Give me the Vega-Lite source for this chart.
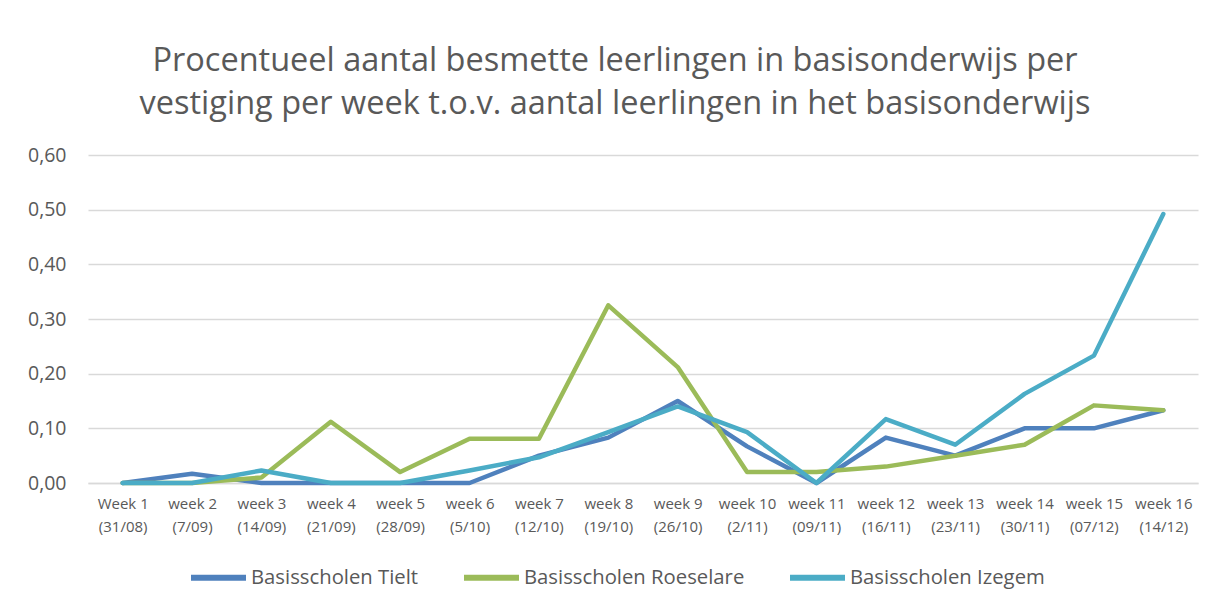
{
  "$schema": "https://vega.github.io/schema/vega-lite/v6.json",
  "width": 1110,
  "height": 328,
  "autosize": {"type": "none"},
  "padding": {"left": 88, "top": 155, "right": 25, "bottom": 124},
  "background": "#ffffff",
  "title": {
    "text": ["Procentueel aantal besmette leerlingen in basisonderwijs per", "vestiging per week t.o.v. aantal leerlingen in het basisonderwijs"],
    "font": "Open Sans",
    "fontSize": 32.5,
    "fontWeight": "normal",
    "color": "#595959",
    "anchor": "middle",
    "dx": -28,
    "offset": 25,
    "lineHeight": 43
  },
  "data": {
    "values": [
      {"week": "Week 1|(31/08)", "reeks": "Basisscholen Tielt", "waarde": 0},
      {"week": "week 2|(7/09)", "reeks": "Basisscholen Tielt", "waarde": 0.017},
      {"week": "week 3|(14/09)", "reeks": "Basisscholen Tielt", "waarde": 0},
      {"week": "week 4|(21/09)", "reeks": "Basisscholen Tielt", "waarde": 0},
      {"week": "week 5|(28/09)", "reeks": "Basisscholen Tielt", "waarde": 0},
      {"week": "week 6|(5/10)", "reeks": "Basisscholen Tielt", "waarde": 0},
      {"week": "week 7|(12/10)", "reeks": "Basisscholen Tielt", "waarde": 0.05},
      {"week": "week 8|(19/10)", "reeks": "Basisscholen Tielt", "waarde": 0.083},
      {"week": "week 9|(26/10)", "reeks": "Basisscholen Tielt", "waarde": 0.15},
      {"week": "week 10|(2/11)", "reeks": "Basisscholen Tielt", "waarde": 0.067},
      {"week": "week 11|(09/11)", "reeks": "Basisscholen Tielt", "waarde": 0},
      {"week": "week 12|(16/11)", "reeks": "Basisscholen Tielt", "waarde": 0.083},
      {"week": "week 13|(23/11)", "reeks": "Basisscholen Tielt", "waarde": 0.05},
      {"week": "week 14|(30/11)", "reeks": "Basisscholen Tielt", "waarde": 0.1},
      {"week": "week 15|(07/12)", "reeks": "Basisscholen Tielt", "waarde": 0.1},
      {"week": "week 16|(14/12)", "reeks": "Basisscholen Tielt", "waarde": 0.133},
      {"week": "Week 1|(31/08)", "reeks": "Basisscholen Roeselare", "waarde": 0},
      {"week": "week 2|(7/09)", "reeks": "Basisscholen Roeselare", "waarde": 0},
      {"week": "week 3|(14/09)", "reeks": "Basisscholen Roeselare", "waarde": 0.01},
      {"week": "week 4|(21/09)", "reeks": "Basisscholen Roeselare", "waarde": 0.112},
      {"week": "week 5|(28/09)", "reeks": "Basisscholen Roeselare", "waarde": 0.02},
      {"week": "week 6|(5/10)", "reeks": "Basisscholen Roeselare", "waarde": 0.081},
      {"week": "week 7|(12/10)", "reeks": "Basisscholen Roeselare", "waarde": 0.081},
      {"week": "week 8|(19/10)", "reeks": "Basisscholen Roeselare", "waarde": 0.325},
      {"week": "week 9|(26/10)", "reeks": "Basisscholen Roeselare", "waarde": 0.212},
      {"week": "week 10|(2/11)", "reeks": "Basisscholen Roeselare", "waarde": 0.02},
      {"week": "week 11|(09/11)", "reeks": "Basisscholen Roeselare", "waarde": 0.02},
      {"week": "week 12|(16/11)", "reeks": "Basisscholen Roeselare", "waarde": 0.03},
      {"week": "week 13|(23/11)", "reeks": "Basisscholen Roeselare", "waarde": 0.05},
      {"week": "week 14|(30/11)", "reeks": "Basisscholen Roeselare", "waarde": 0.07},
      {"week": "week 15|(07/12)", "reeks": "Basisscholen Roeselare", "waarde": 0.142},
      {"week": "week 16|(14/12)", "reeks": "Basisscholen Roeselare", "waarde": 0.133},
      {"week": "Week 1|(31/08)", "reeks": "Basisscholen Izegem", "waarde": 0},
      {"week": "week 2|(7/09)", "reeks": "Basisscholen Izegem", "waarde": 0},
      {"week": "week 3|(14/09)", "reeks": "Basisscholen Izegem", "waarde": 0.023},
      {"week": "week 4|(21/09)", "reeks": "Basisscholen Izegem", "waarde": 0},
      {"week": "week 5|(28/09)", "reeks": "Basisscholen Izegem", "waarde": 0},
      {"week": "week 6|(5/10)", "reeks": "Basisscholen Izegem", "waarde": 0.023},
      {"week": "week 7|(12/10)", "reeks": "Basisscholen Izegem", "waarde": 0.047},
      {"week": "week 8|(19/10)", "reeks": "Basisscholen Izegem", "waarde": 0.093},
      {"week": "week 9|(26/10)", "reeks": "Basisscholen Izegem", "waarde": 0.14},
      {"week": "week 10|(2/11)", "reeks": "Basisscholen Izegem", "waarde": 0.093},
      {"week": "week 11|(09/11)", "reeks": "Basisscholen Izegem", "waarde": 0},
      {"week": "week 12|(16/11)", "reeks": "Basisscholen Izegem", "waarde": 0.117},
      {"week": "week 13|(23/11)", "reeks": "Basisscholen Izegem", "waarde": 0.07},
      {"week": "week 14|(30/11)", "reeks": "Basisscholen Izegem", "waarde": 0.163},
      {"week": "week 15|(07/12)", "reeks": "Basisscholen Izegem", "waarde": 0.233},
      {"week": "week 16|(14/12)", "reeks": "Basisscholen Izegem", "waarde": 0.492}
    ]
  },
  "mark": {"type": "line", "strokeWidth": 4.5, "strokeCap": "round", "strokeJoin": "round"},
  "encoding": {
    "x": {
      "field": "week",
      "type": "ordinal",
      "sort": null,
      "scale": {"type": "point", "padding": 0.5},
      "axis": {
        "title": null,
        "labelAngle": 0,
        "labelExpr": "split(datum.label, '|')",
        "labelFont": "Open Sans",
        "labelFontSize": 15,
        "labelColor": "#595959",
        "labelLineHeight": 23,
        "labelPadding": 13,
        "ticks": false,
        "domainColor": "#d9d9d9",
        "domainWidth": 1.5,
        "grid": false
      }
    },
    "y": {
      "field": "waarde",
      "type": "quantitative",
      "scale": {"domain": [0, 0.6], "nice": false},
      "axis": {
        "title": null,
        "values": [0, 0.1, 0.2, 0.3, 0.4, 0.5, 0.6],
        "labelExpr": "replace(format(datum.value, '.2f'), '.', ',')",
        "labelFont": "Open Sans",
        "labelFontSize": 19.5,
        "labelColor": "#595959",
        "labelPadding": 22,
        "ticks": false,
        "domain": false,
        "gridColor": "#d9d9d9",
        "gridWidth": 1.5
      }
    },
    "color": {
      "field": "reeks",
      "type": "nominal",
      "sort": null,
      "scale": {
        "domain": ["Basisscholen Tielt", "Basisscholen Roeselare", "Basisscholen Izegem"],
        "range": ["#4f81bd", "#9bbb59", "#4bacc6"]
      },
      "legend": {
        "title": null,
        "orient": "none",
        "legendX": 100,
        "legendY": 392,
        "padding": 0,
        "direction": "horizontal",
        "symbolType": "stroke",
        "symbolStrokeWidth": 6,
        "symbolSize": 3025,
        "labelFont": "Open Sans",
        "labelFontSize": 20.3,
        "labelColor": "#595959",
        "labelOffset": 2,
        "labelLimit": 0,
        "columnPadding": 33
      }
    }
  },
  "config": {
    "view": {"stroke": null}
  }
}
